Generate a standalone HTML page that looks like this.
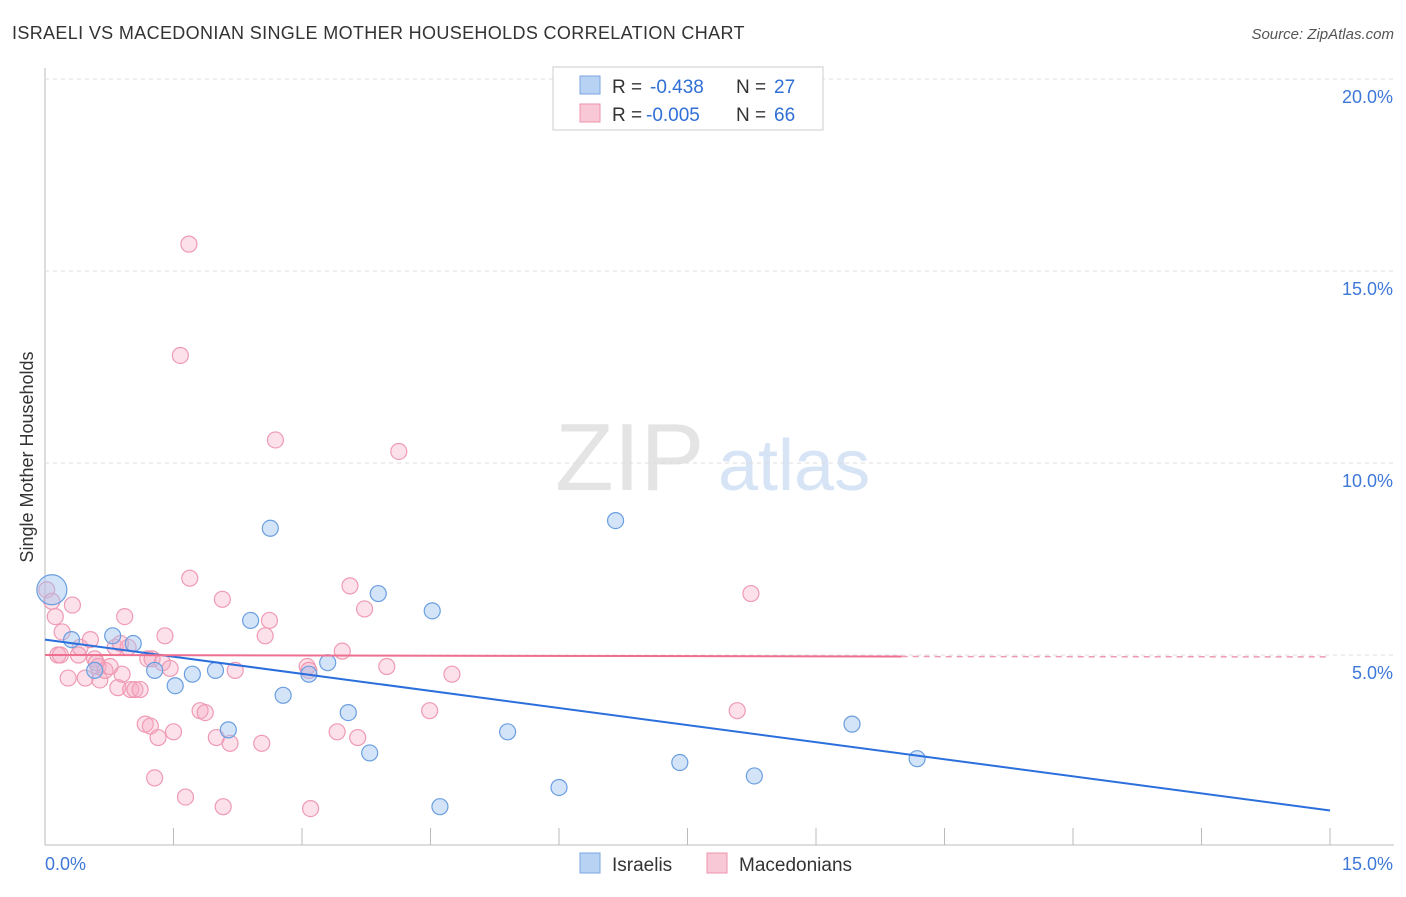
<!DOCTYPE html>
<html><head><meta charset="utf-8"><style>
body{margin:0;background:#fff;font-family:"Liberation Sans",sans-serif}
svg text{font-family:"Liberation Sans",sans-serif}
</style></head><body>
<svg width="1406" height="892" xmlns="http://www.w3.org/2000/svg" id="chart">
<text x="12" y="39" font-size="18" fill="#333" letter-spacing="0.35">ISRAELI VS MACEDONIAN SINGLE MOTHER HOUSEHOLDS CORRELATION CHART</text>
<text x="1394" y="39" font-size="15" fill="#555" text-anchor="end" font-style="italic">Source: ZipAtlas.com</text>
<text x="33" y="457" font-size="18" fill="#333" text-anchor="middle" transform="rotate(-90 33 457)">Single Mother Households</text>
<text x="555" y="490" font-size="96" fill="#e4e4e4" font-family="Liberation Serif">ZIP</text>
<text x="718" y="490" font-size="72" fill="#d6e4f5">atlas</text>
<g id="grid"></g><g id="pts"></g><g id="lines"></g>
<g>
<rect x="553" y="67" width="270" height="63" fill="#fff" stroke="#ccc"/>
<rect x="580" y="76" width="20" height="18" fill="#b8d2f3" stroke="#7aa6e0"/>
<rect x="580" y="104" width="20" height="18" fill="#f9c8d6" stroke="#ee93ad"/>
<text x="612" y="93" font-size="19" fill="#333">R =</text>
<text x="650" y="93" font-size="19" fill="#2f6fd6">-0.438</text>
<text x="736" y="93" font-size="19" fill="#333">N =</text>
<text x="774" y="93" font-size="19" fill="#2f6fd6">27</text>
<text x="612" y="121" font-size="19" fill="#333">R =</text>
<text x="646" y="121" font-size="19" fill="#2f6fd6">-0.005</text>
<text x="736" y="121" font-size="19" fill="#333">N =</text>
<text x="774" y="121" font-size="19" fill="#2f6fd6">66</text>
</g>
<g>
<rect x="580" y="853" width="20" height="20" fill="#b8d2f3" stroke="#7aa6e0"/>
<text x="612" y="871" font-size="19" fill="#333">Israelis</text>
<rect x="707" y="853" width="20" height="20" fill="#f9c8d6" stroke="#ee93ad"/>
<text x="739" y="871" font-size="19" fill="#333">Macedonians</text>
</g>
</svg>
<script>
const xTicks=[0,15];
const yTicks=[5,10,15,20];
const israelisX=[0.08,0.31,0.58,0.79,1.03,1.28,1.52,1.72,1.99,2.14,2.4,2.63,2.78,3.08,3.3,3.54,3.79,3.89,4.52,4.61,5.4,6.0,6.66,7.41,8.28,9.42,10.18];
const israelisY=[6.7,5.4,4.6,5.5,5.3,4.6,4.2,4.5,4.6,3.05,5.9,8.3,3.95,4.5,4.8,3.5,2.45,6.6,6.15,1.05,3.0,1.55,8.5,2.2,1.85,3.2,2.3];
const macX=[0.02,0.08,0.12,0.2,0.15,0.32,0.27,0.39,0.41,0.47,0.53,0.58,0.62,0.64,0.7,0.76,0.82,0.85,0.9,0.93,0.97,1.0,1.05,1.11,1.17,1.2,1.23,1.25,1.28,1.32,1.37,1.4,1.46,1.5,1.58,1.64,1.68,1.69,1.81,1.87,2.0,2.07,2.08,2.16,2.22,2.53,2.57,2.62,2.69,3.06,3.08,3.1,3.41,3.47,3.56,3.65,3.73,3.99,4.13,4.49,4.75,8.08,8.24,0.88,0.6,0.18];
const macY=[6.7,6.4,6.0,5.6,5.0,6.3,4.4,5.0,5.2,4.4,5.4,4.9,4.7,4.35,4.6,4.7,5.2,4.15,4.5,6.0,5.2,4.1,4.1,4.1,3.2,4.9,3.15,4.9,1.8,2.85,4.8,5.5,4.65,3.0,12.8,1.3,15.7,7.0,3.55,3.5,2.85,6.45,1.05,2.7,4.6,2.7,5.5,5.9,10.6,4.7,4.6,1.0,3.0,5.1,6.8,2.85,6.2,4.7,10.3,3.55,4.5,3.55,6.6,5.3,4.8,5.0];
const X=v=>45+v*85.67, Y=v=>847-v*38.4;
const NS="http://www.w3.org/2000/svg";
function mk(tag,attrs,parent){const e=document.createElementNS(NS,tag);for(const k in attrs)e.setAttribute(k,attrs[k]);document.getElementById(parent).appendChild(e);return e;}
const g='grid';
let ax=mk('line',{x1:45,y1:68,x2:45,y2:845,stroke:'#bbb'},g);


let bx=mk('line',{x1:45,y1:845,x2:1394,y2:845,stroke:'#bbb'},g);


for(let i=0;i<=10;i++){const t=mk('line',{x1:45+i*128.5,y1:828,x2:45+i*128.5,y2:845,stroke:'#bbb'},g);

}
yTicks.forEach(v=>{const l=mk('line',{x1:45,x2:1394,y1:Y(v),y2:Y(v),stroke:'#ddd','stroke-dasharray':'4,4'},g);


const t=mk('text',{x:1393,y:Y(v)+24,'font-size':18,fill:'#3d78d8','text-anchor':'end'},g);t.textContent=v.toFixed(1)+'%';

});
xTicks.forEach((v,i)=>{const t=mk('text',{x:i?1393:45,y:870,'font-size':18,fill:'#3d78d8','text-anchor':i?'end':'start'},g);t.textContent=v.toFixed(1)+'%';

});
macX.forEach((v,i)=>{const c=mk('circle',{cx:X(v),cy:Y(macY[i]),r:8,fill:'rgba(246,170,195,0.35)',stroke:'#ef9ab3','stroke-width':1.2},'pts');

});
israelisX.forEach((v,i)=>{const c=mk('circle',{cx:X(v),cy:Y(israelisY[i]),r:i==0?15:8,fill:'rgba(160,195,240,0.45)',stroke:'#6a9ee0','stroke-width':1.2},'pts');

});
let l1=mk('line',{x1:X(0),y1:Y(5.4),x2:X(15),y2:Y(0.95),stroke:'#2a6fdc','stroke-width':2},'lines');


let l2=mk('line',{x1:X(0),y1:Y(5.0),x2:X(10),y2:Y(4.96),stroke:'#ee6f90','stroke-width':2},'lines');


let l3=mk('line',{x1:X(10),y1:Y(4.96),x2:X(15),y2:Y(4.95),stroke:'#ee9ab0','stroke-width':1.5,'stroke-dasharray':'6,5'},'lines');


</script>
</body></html>
